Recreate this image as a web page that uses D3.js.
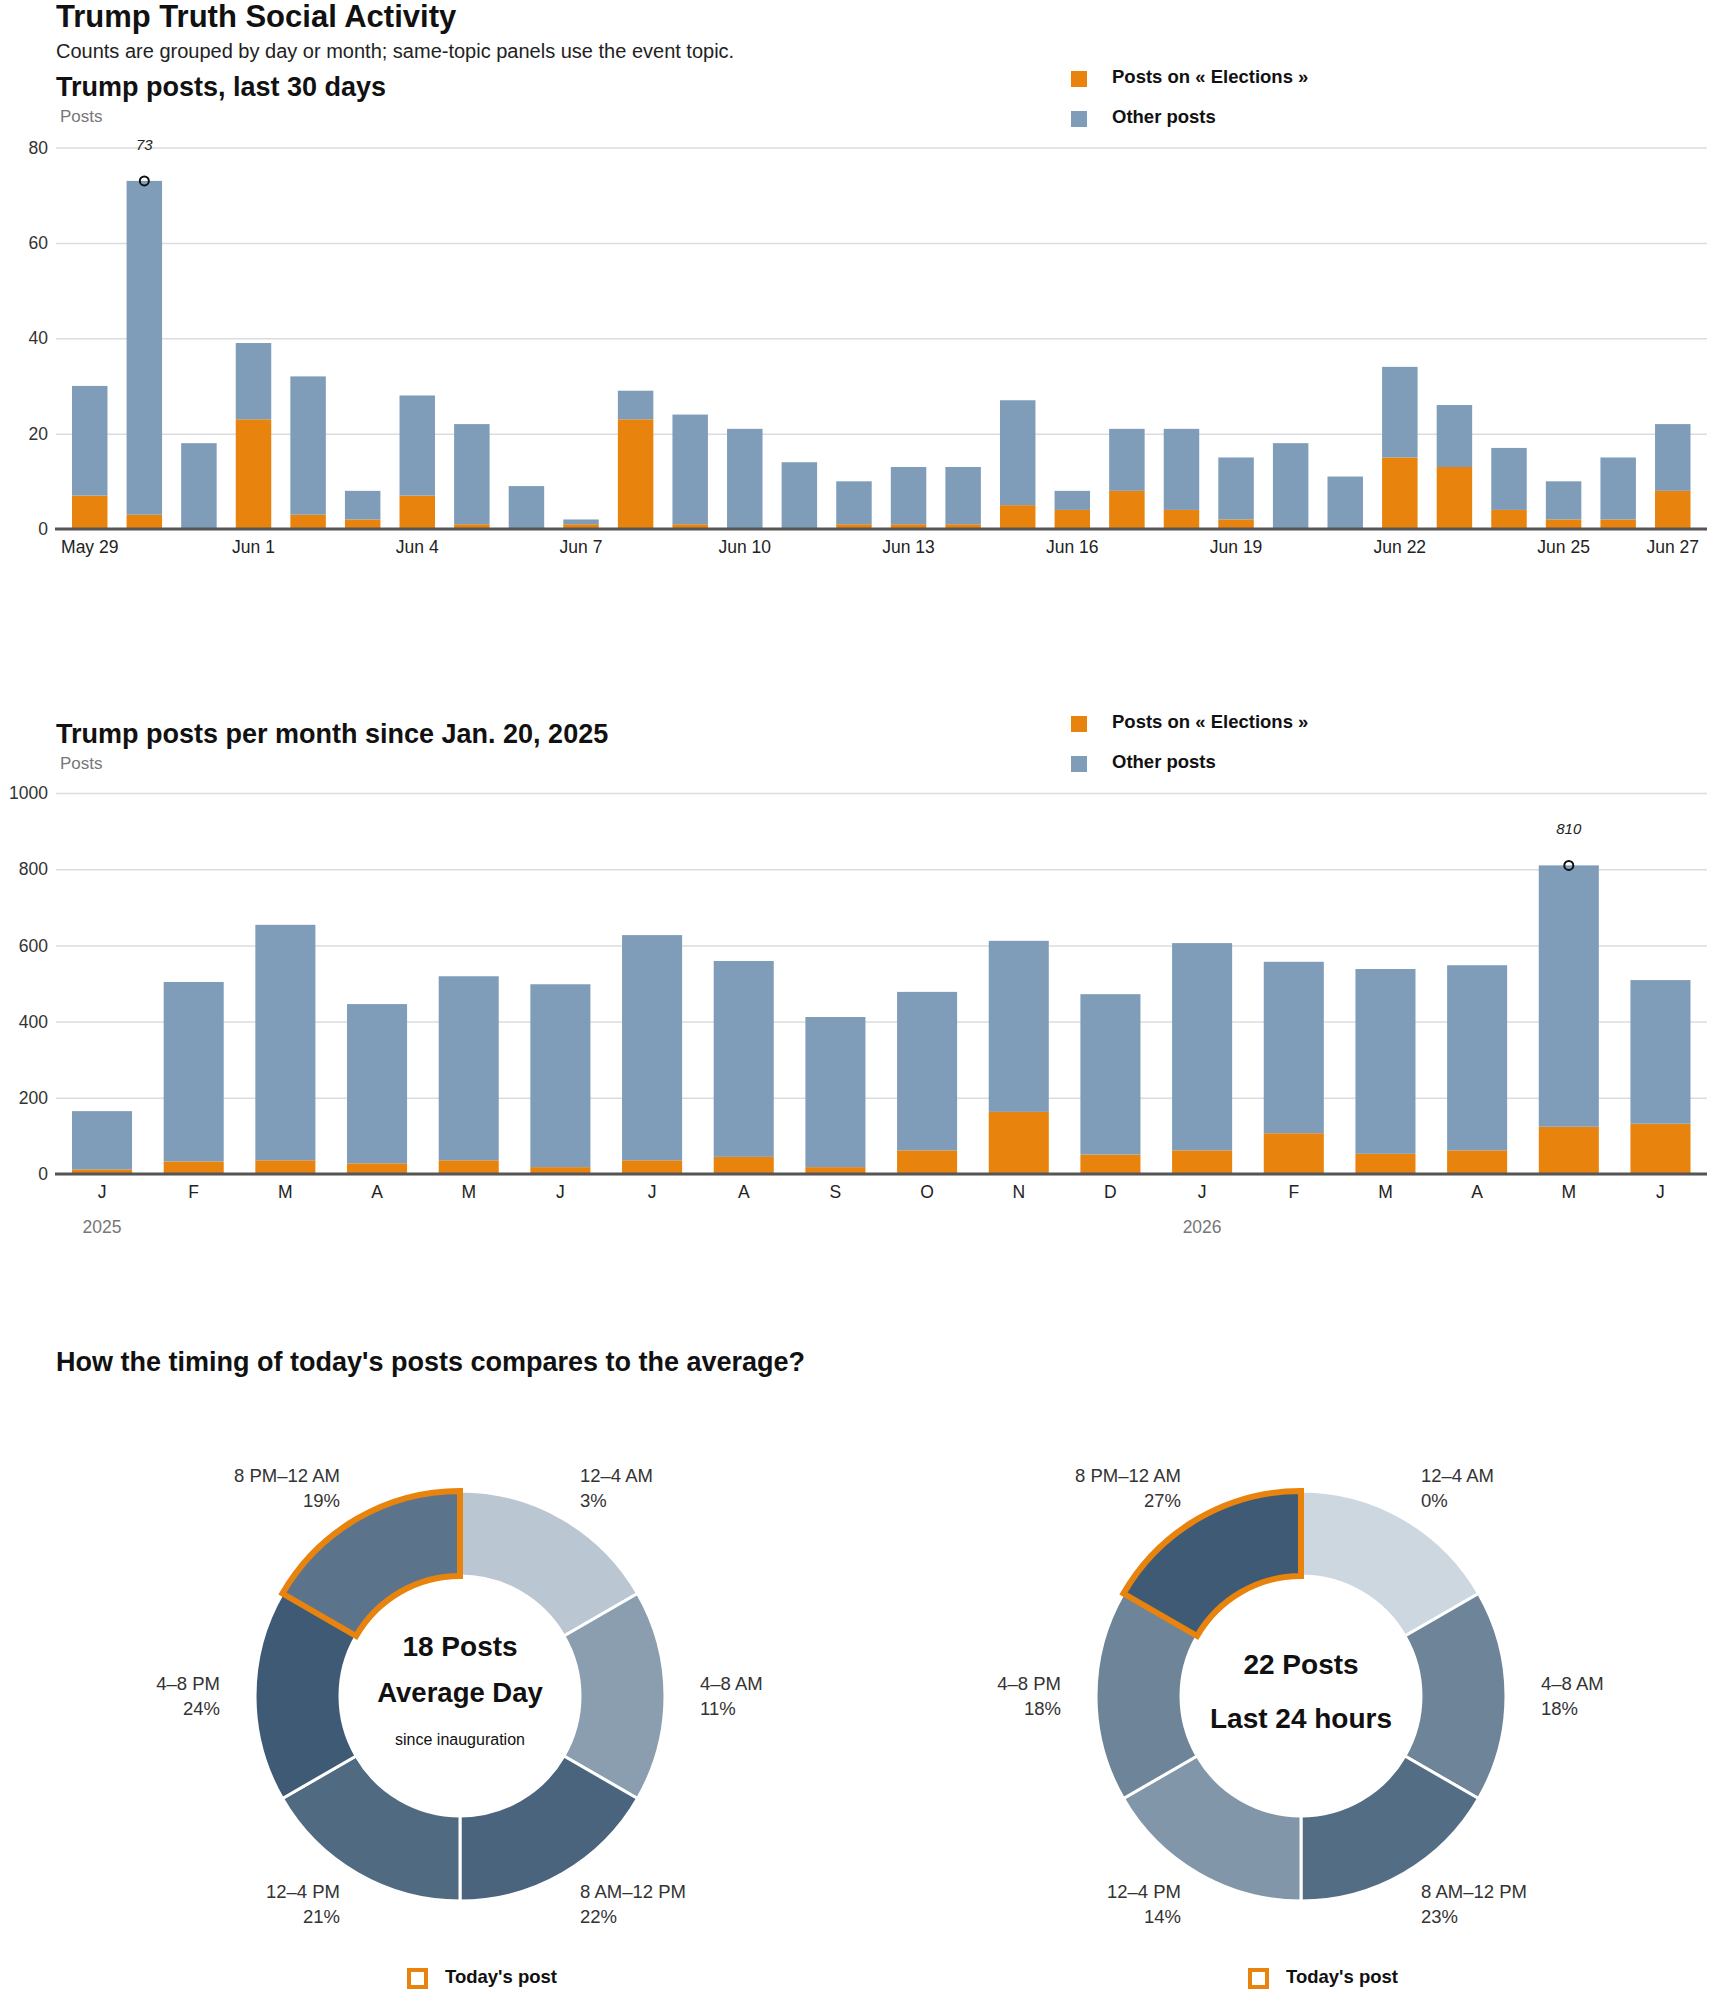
<!DOCTYPE html>
<html>
<head>
<meta charset="utf-8">
<script src="https://cdn.jsdelivr.net/npm/d3@7"></script>
<style>
  body { margin: 0; background: #fff; }
  svg { display: block; font-family: "Liberation Sans", Arial, sans-serif; }
</style>
</head>
<body>
<div id="chart"></div>
<script>
// --- data ---------------------------------------------------------------
const dayLabels = ["May 29","May 30","May 31","Jun 1","Jun 2","Jun 3","Jun 4","Jun 5","Jun 6","Jun 7",
  "Jun 8","Jun 9","Jun 10","Jun 11","Jun 12","Jun 13","Jun 14","Jun 15","Jun 16","Jun 17",
  "Jun 18","Jun 19","Jun 20","Jun 21","Jun 22","Jun 23","Jun 24","Jun 25","Jun 26","Jun 27"];
const dayElections = [7,3,0,23,3,2,7,1,0,1,23,1,0,0,1,1,1,5,4,8,4,2,0,0,15,13,4,2,2,8];
const dayOther     = [23,70,18,16,29,6,21,21,9,1,6,23,21,14,9,12,12,22,4,13,17,13,18,11,19,13,13,8,13,14];
const dayTicks = [0,20,40,60,80];

const monthKeys = ["2025-01","2025-02","2025-03","2025-04","2025-05","2025-06","2025-07","2025-08","2025-09",
  "2025-10","2025-11","2025-12","2026-01","2026-02","2026-03","2026-04","2026-05","2026-06"];
const monthLetters = ["J","F","M","A","M","J","J","A","S","O","N","D","J","F","M","A","M","J"];
const monthElections = [12,33,36,28,36,18,36,45,18,62,163,51,62,107,53,62,124,132];
const monthOther     = [153,471,618,418,483,480,591,514,394,416,449,421,544,450,485,486,686,377];
const monthTicks = [0,200,400,600,800,1000];
const yearLabels = [{key: "2025-01", label: "2025"}, {key: "2026-01", label: "2026"}];

const slots = ["12–4 AM","4–8 AM","8 AM–12 PM","12–4 PM","4–8 PM","8 PM–12 AM"];
const avgShare = [3,11,22,21,24,19];
const todayShare = [0,18,23,14,18,27];
const currentSlot = "8 PM–12 AM";

// --- setup --------------------------------------------------------------
const width = 1710, height = 1993;
const orange = "#e8830e", blue = "#7f9db9";
const left = 56, right = 1707;

const svg = d3.select("#chart").append("svg")
  .attr("width", width)
  .attr("height", height);

function text(g, x, y, str, opts) {
  opts = opts || {};
  return g.append("text")
    .attr("x", x).attr("y", y)
    .attr("font-size", opts.size || 17)
    .attr("font-weight", opts.weight || "normal")
    .attr("font-style", opts.style || "normal")
    .attr("fill", opts.fill || "#111")
    .attr("text-anchor", opts.anchor || "start")
    .text(str);
}

text(svg, left, 27, "Trump Truth Social Activity", {size: 31, weight: "bold"});
text(svg, left, 58, "Counts are grouped by day or month; same-topic panels use the event topic.", {size: 20, fill: "#222"});

function legend(top) {
  const items = [["Posts on « Elections »", orange], ["Other posts", blue]];
  items.forEach(function(it, i) {
    svg.append("rect")
      .attr("x", 1071).attr("y", top + i * 40)
      .attr("width", 16).attr("height", 16)
      .attr("fill", it[1]);
    text(svg, 1112, top + 12 + i * 40, it[0], {size: 18.5, weight: "bold"});
  });
}

// stacked bar panel
function barPanel(cfg) {
  const g = svg.append("g");
  text(g, left, cfg.titleY, cfg.title, {size: 27, weight: "bold"});
  text(g, 60, cfg.titleY + 26, "Posts", {size: 17, fill: "#777"});
  legend(cfg.legendY);

  const x = d3.scaleBand()
    .domain(cfg.keys)
    .range([72, 1690.5])
    .paddingInner(cfg.pad)
    .paddingOuter(0);

  const y = d3.scaleLinear()
    .domain([0, cfg.max])
    .range([cfg.y0, cfg.y1]);

  // gridlines + y labels
  g.append("g")
    .attr("transform", "translate(" + left + ",0)")
    .call(d3.axisLeft(y).tickValues(cfg.ticks).tickFormat(d3.format("d"))
      .tickSize(-(right - left)).tickPadding(8))
    .call(function(a) {
      a.select(".domain").remove();
      a.selectAll(".tick line").attr("stroke", "#dcdcdc").attr("stroke-width", 1.5);
      a.selectAll(".tick text").attr("font-size", 17.5).attr("fill", "#333").attr("font-family", null);
    });

  const rows = cfg.keys.map(function(k, i) {
    return {key: k, elections: cfg.elections[i], other: cfg.other[i]};
  });
  const series = d3.stack().keys(["elections", "other"])(rows);

  g.append("g").selectAll("g")
    .data(series)
    .join("g")
      .attr("fill", function(d) { return d.key === "elections" ? orange : blue; })
    .selectAll("rect")
    .data(function(d) { return d; })
    .join("rect")
      .attr("x", function(d) { return x(d.data.key); })
      .attr("width", x.bandwidth())
      .attr("y", function(d) { return y(d[1]); })
      .attr("height", function(d) { return y(d[0]) - y(d[1]); });

  // x axis
  g.append("g")
    .attr("transform", "translate(0," + cfg.y0 + ")")
    .call(d3.axisBottom(x).tickValues(cfg.tickKeys).tickFormat(cfg.tickFormat).tickSize(0).tickPadding(12))
    .call(function(a) {
      a.select(".domain").remove();
      a.selectAll(".tick text").attr("font-size", 17.5).attr("fill", "#222").attr("font-family", null);
    });
  g.append("line")
    .attr("x1", left - 1).attr("x2", right)
    .attr("y1", cfg.y0).attr("y2", cfg.y0)
    .attr("stroke", "#555").attr("stroke-width", 3);

  // max annotation
  const totals = rows.map(function(r) { return r.elections + r.other; });
  const iMax = d3.maxIndex(totals);
  const cx = x(cfg.keys[iMax]) + x.bandwidth() / 2;
  g.append("circle")
    .attr("cx", cx).attr("cy", y(totals[iMax]))
    .attr("r", 4.5)
    .attr("fill", "none").attr("stroke", "#111").attr("stroke-width", 2);
  text(g, cx, y(totals[iMax]) - 31, totals[iMax], {size: 15, style: "italic", anchor: "middle", fill: "#222"});

  return {g: g, x: x};
}

barPanel({
  title: "Trump posts, last 30 days", titleY: 96, legendY: 71,
  keys: dayLabels, elections: dayElections, other: dayOther,
  max: 80, ticks: dayTicks, y0: 529, y1: 147.5, pad: 0.35,
  tickKeys: dayLabels.filter(function(d, i) { return i % 3 === 0 || i === dayLabels.length - 1; }),
  tickFormat: function(d) { return d; }
});

const monthly = barPanel({
  title: "Trump posts per month since Jan. 20, 2025", titleY: 743, legendY: 716,
  keys: monthKeys, elections: monthElections, other: monthOther,
  max: 1000, ticks: monthTicks, y0: 1174, y1: 793, pad: 0.345,
  tickKeys: monthKeys,
  tickFormat: function(d) { return monthLetters[monthKeys.indexOf(d)]; }
});

yearLabels.forEach(function(yl) {
  text(monthly.g, monthly.x(yl.key) + monthly.x.bandwidth() / 2, 1233, yl.label,
    {size: 17.5, fill: "#777", anchor: "middle"});
});

// --- donuts -------------------------------------------------------------
text(svg, left, 1371, "How the timing of today's posts compares to the average?", {size: 27, weight: "bold"});

const rIn = 120, rOut = 205, cy = 1696;
const arc = d3.arc().innerRadius(rIn).outerRadius(rOut);
const pie = d3.pie().value(1).sort(null);

function donut(cx, shares, lines) {
  const g = svg.append("g").attr("transform", "translate(" + cx + "," + cy + ")");
  const color = d3.scaleLinear()
    .domain([0, d3.max(shares)])
    .range(["#ccd7e0", "#3e5a75"]);
  const arcs = pie(slots.map(function(s, i) { return {slot: s, share: shares[i]}; }));

  g.selectAll("path.seg")
    .data(arcs)
    .join("path")
      .attr("class", "seg")
      .attr("d", arc)
      .attr("fill", function(d) { return color(d.data.share); })
      .attr("stroke", "#fff")
      .attr("stroke-width", 3);

  g.selectAll("path.hl")
    .data(arcs.filter(function(d) { return d.data.slot === currentSlot; }))
    .join("path")
      .attr("class", "hl")
      .attr("d", arc)
      .attr("fill", "none")
      .attr("stroke", orange)
      .attr("stroke-width", 6)
      .attr("stroke-linejoin", "miter");

  arcs.forEach(function(d) {
    const a = (d.startAngle + d.endAngle) / 2;
    const lx = Math.sin(a) * 240, ly = -Math.cos(a) * 240;
    const anchor = lx > 0 ? "start" : "end";
    const t = g.append("text")
      .attr("font-size", 18.5).attr("fill", "#333").attr("text-anchor", anchor);
    t.append("tspan").attr("x", lx).attr("y", ly - 6).text(d.data.slot);
    t.append("tspan").attr("x", lx).attr("y", ly + 19).text(d.data.share + "%");
  });

  lines.forEach(function(l) {
    text(g, 0, l.y, l.text, {size: l.size, weight: l.weight, anchor: "middle", fill: "#111"});
  });

  // legend
  svg.append("rect")
    .attr("x", cx - 51).attr("y", 1970)
    .attr("width", 17).attr("height", 17)
    .attr("fill", "#fff").attr("stroke", orange).attr("stroke-width", 4);
  text(svg, cx - 15, 1983, "Today's post", {size: 18.5, weight: "bold"});
}

donut(460, avgShare, [
  {text: "18 Posts", y: -40, size: 28, weight: "bold"},
  {text: "Average Day", y: 6, size: 27.5, weight: "bold"},
  {text: "since inauguration", y: 49, size: 16, weight: "normal"}
]);
donut(1301, todayShare, [
  {text: "22 Posts", y: -22, size: 28, weight: "bold"},
  {text: "Last 24 hours", y: 32, size: 28, weight: "bold"}
]);
</script>
</body>
</html>
